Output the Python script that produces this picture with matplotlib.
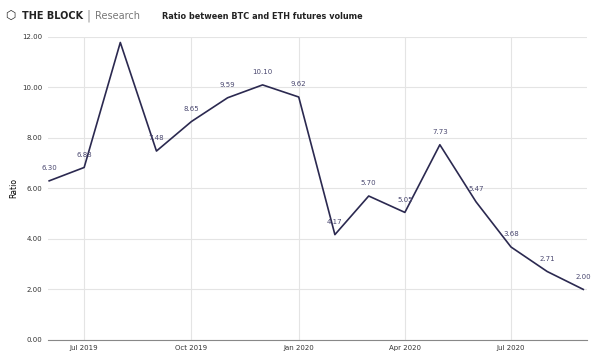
import matplotlib
matplotlib.use("Agg")
import matplotlib.pyplot as plt
import datetime as dt

months = ["2019-06", "2019-07", "2019-08", "2019-09", "2019-10", "2019-11", "2019-12",
          "2020-01", "2020-02", "2020-03", "2020-04", "2020-05", "2020-06", "2020-07",
          "2020-08", "2020-09"]
ratio = [6.30, 6.83, 11.78, 7.48, 8.65, 9.59, 10.10, 9.62, 4.17, 5.70, 5.05, 7.73,
         5.47, 3.68, 2.71, 2.00]
labelled = [True, True, False] + [True] * 13
tick_months = ["2019-07", "2019-10", "2020-01", "2020-04", "2020-07"]
tick_labels = ["Jul 2019", "Oct 2019", "Jan 2020", "Apr 2020", "Jul 2020"]

def to_date(s):
    y, m = s.split("-")
    return dt.datetime(int(y), int(m), 1)

dates = [to_date(m) for m in months]
line_col = "#2b2950"

fig = plt.figure(figsize=(6, 3.62), dpi=100)
ax = fig.add_axes([0.08, 0.061, 0.898, 0.837])

ax.plot(dates, ratio, color=line_col, lw=1.2)
for d, v, show in zip(dates, ratio, labelled):
    if show:
        ax.annotate(f"{v:.2f}", (d, v), xytext=(0, 7), textcoords="offset points",
                    ha="center", va="bottom", fontsize=5, color="#4a4870")

ax.set_ylim(0, 12)
ax.set_yticks(range(0, 13, 2))
ax.set_yticklabels([f"{v:.2f}" for v in range(0, 13, 2)], fontsize=5, color="#333333")
ax.set_xlim(dt.datetime(2019, 5, 31), dt.datetime(2020, 9, 4))
ax.set_xticks([to_date(m) for m in tick_months])
ax.set_xticklabels(tick_labels, fontsize=5, color="#333333")
ax.tick_params(length=0, pad=4)
ax.grid(True, color="#e4e4e4", lw=0.8)
ax.set_axisbelow(True)
for s in ["top", "right", "left"]:
    ax.spines[s].set_visible(False)
ax.spines["bottom"].set_color("#888888")
ax.set_ylabel("Ratio", fontsize=5.5)
ax.yaxis.set_label_coords(-0.056, 0.5)

fig.text(0.437, 0.955, "Ratio between BTC and ETH futures volume", ha="center", va="center",
         fontsize=5.9, fontweight="bold", color="#222222")
fig.text(0.037, 0.955, "THE BLOCK", ha="left", va="center", fontsize=7,
         fontweight="bold", color="#222222")
fig.text(0.145, 0.955, "|", ha="left", va="center", fontsize=8.5, color="#999999")
fig.text(0.158, 0.955, "Research", ha="left", va="center", fontsize=7, color="#777777")
fig.text(0.008, 0.955, "\u2b21", ha="left", va="center", fontsize=8.5, color="#222222")

fig.savefig("out.png", dpi=100, facecolor="white")
